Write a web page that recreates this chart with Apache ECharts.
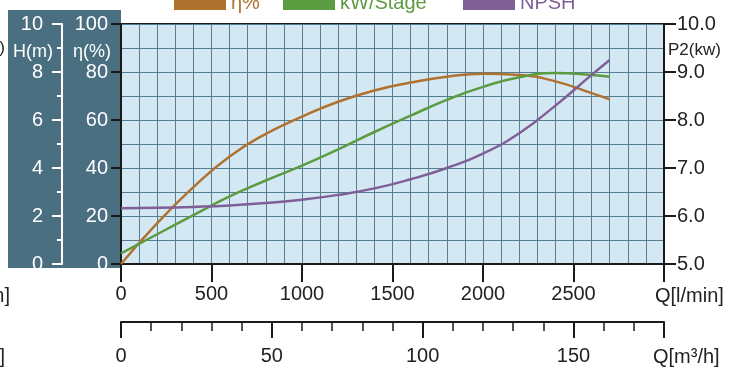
<!DOCTYPE html>
<html>
<head>
<meta charset="utf-8">
<script src="https://cdn.jsdelivr.net/npm/echarts@6/dist/echarts.min.js"></script>
<style>
  html, body { margin: 0; padding: 0; background: #fff; }
  #chart { width: 730px; height: 374px; }
</style>
</head>
<body>
<div id="chart"></div>
<script>
// flow in l/min
const flowQ   = [0, 200, 400, 600, 800, 1000, 1200, 1400, 1600, 1800, 2000, 2200, 2400, 2600, 2700];
const effVal  = [0, 17, 32, 44.8, 54.2, 61.4, 67.6, 72.3, 75.6, 78, 79.3, 78.8, 76.1, 71.2, 68.6];           // η %
const kwVal   = [5.22, 5.62, 6.02, 6.41, 6.74, 7.05, 7.39, 7.75, 8.09, 8.42, 8.69, 8.89, 8.98, 8.94, 8.9];   // P2 kW
const npshVal = [2.32, 2.34, 2.38, 2.44, 2.54, 2.68, 2.88, 3.15, 3.53, 4.0, 4.6, 5.45, 6.6, 7.88, 8.5];     // H m

const FONT = 'Liberation Sans, Arial, sans-serif';
const GRIDC = '#557f90';

const pairs = (xs, ys) => xs.map((x, i) => [x, ys[i]]);

const mychart = echarts.init(document.getElementById('chart'));

const option = {
  animation: false,
  textStyle: { fontFamily: FONT },
  legend: [
    { data: ['η%'], left: 174, top: -7 },
    { data: ['kW/Stage'], left: 283, top: -7 },
    { data: ['NPSH'], left: 463, top: -7 }
  ].map(l => Object.assign(l, {
    padding: 0, icon: 'rect', itemWidth: 52, itemHeight: 14, itemGap: 6,
    textStyle: { color: 'inherit', fontSize: 20, fontFamily: FONT }
  })),
  grid: [
    { left: 121, right: 66, top: 24, height: 240, show: true, backgroundColor: '#d4e8f4', borderColor: '#1a1a1a', borderWidth: 2 },
    { left: 121, right: 66, top: 300, height: 22 },
    { left: 121, right: 66, top: 300, height: 22 }
  ],
  xAxis: [
    {
      gridIndex: 0, type: 'value', min: 0, max: 3000, interval: 500,
      axisLine: { lineStyle: { color: '#1a1a1a', width: 2 } },
      axisTick: { length: 18, lineStyle: { color: '#1a1a1a', width: 2 } },
      axisLabel: { fontSize: 20, color: '#222', margin: 20, formatter: v => v === 3000 ? '' : v },
      splitLine: { lineStyle: { color: GRIDC, width: 1 } },
      minorTick: { show: false, splitNumber: 5 },
      minorSplitLine: { show: true, lineStyle: { color: GRIDC, width: 1 } }
    },
    {
      gridIndex: 1, type: 'value', min: 0, max: 180, interval: 50,
      axisLine: { lineStyle: { color: '#1a1a1a', width: 2 } },
      axisTick: { length: 16, lineStyle: { color: '#1a1a1a', width: 2 } },
      axisLabel: { fontSize: 20, color: '#222', margin: 24, formatter: v => v === 180 ? '' : v },
      splitLine: { show: false }
    },
    {
      gridIndex: 2, type: 'value', min: 0, max: 180, interval: 10,
      axisLine: { show: false },
      axisTick: { length: 9, lineStyle: { color: '#1a1a1a', width: 1.5 } },
      axisLabel: { show: false },
      splitLine: { show: false }
    }
  ],
  yAxis: [
    {
      gridIndex: 0, type: 'value', position: 'left', min: 0, max: 100, interval: 20,
      axisLine: { show: true, lineStyle: { color: '#1a1a1a', width: 2 } },
      axisTick: { show: true, length: 10, lineStyle: { color: '#1a1a1a', width: 2 } },
      axisLabel: { fontSize: 20, color: '#fff', margin: 13 },
      splitLine: { lineStyle: { color: GRIDC, width: 1 } },
      minorSplitLine: { show: true, lineStyle: { color: GRIDC, width: 1 } },
      minorTick: { show: false, splitNumber: 2 }
    },
    {
      gridIndex: 0, type: 'value', position: 'left', offset: 59, min: 0, max: 10, interval: 2,
      axisLine: { show: true, lineStyle: { color: '#fff', width: 2 } },
      axisTick: { show: true, length: 10, lineStyle: { color: '#fff', width: 2 } },
      minorTick: { show: true, splitNumber: 2, length: 5, lineStyle: { color: '#fff', width: 2 } },
      axisLabel: { fontSize: 20, color: '#fff', margin: 19 },
      splitLine: { show: false }
    },
    {
      gridIndex: 0, type: 'value', position: 'right', min: 5, max: 10, interval: 1,
      axisLine: { show: true, lineStyle: { color: '#1a1a1a', width: 2 } },
      axisTick: { show: true, length: 12, lineStyle: { color: '#1a1a1a', width: 2 } },
      axisLabel: { fontSize: 20, color: '#222', margin: 13, formatter: v => v.toFixed(1) },
      splitLine: { show: false }
    },
    { gridIndex: 1, type: 'value', show: false },
    { gridIndex: 2, type: 'value', show: false }
  ],
  graphic: [
    { type: 'rect', z: -10, shape: { x: 8, y: 10, width: 113, height: 258 }, style: { fill: '#4a6f80' } },
    { type: 'text', z: 100, x: 13, y: 52, style: { text: 'H(m)', fill: '#fff', font: '18px ' + FONT, verticalAlign: 'middle' } },
    { type: 'text', z: 100, x: 73, y: 52, style: { text: 'η(%)', fill: '#fff', font: '18px ' + FONT, verticalAlign: 'middle' } },
    { type: 'text', z: 100, x: 668, y: 50, style: { text: 'P2(kw)', fill: '#222', font: '17px ' + FONT, verticalAlign: 'middle' } },
    { type: 'text', z: 100, x: 655, y: 296, style: { text: 'Q[l/min]', fill: '#222', font: '20px ' + FONT, verticalAlign: 'middle' } },
    { type: 'text', z: 100, x: 653, y: 357, style: { text: 'Q[m³/h]', fill: '#222', font: '20px ' + FONT, verticalAlign: 'middle' } },
    { type: 'text', z: 100, x: 5, y: 48, style: { text: 'H(x10)', fill: '#222', font: '17px ' + FONT, align: 'right', verticalAlign: 'middle' } },
    { type: 'text', z: 100, x: 10, y: 296, style: { text: 'Q[US g.p.m]', fill: '#222', font: '20px ' + FONT, align: 'right', verticalAlign: 'middle' } },
    { type: 'text', z: 100, x: 5, y: 357, style: { text: 'Q[ft³/h]', fill: '#222', font: '20px ' + FONT, align: 'right', verticalAlign: 'middle' } }
  ],
  series: [
    {
      name: 'η%', type: 'line', xAxisIndex: 0, yAxisIndex: 0, smooth: 0.5,
      showSymbol: false, color: '#b0722f', lineStyle: { width: 2.5 }, data: pairs(flowQ, effVal)
    },
    {
      name: 'kW/Stage', type: 'line', xAxisIndex: 0, yAxisIndex: 2, smooth: 0.5,
      showSymbol: false, color: '#5c9c40', lineStyle: { width: 2.5 }, data: pairs(flowQ, kwVal)
    },
    {
      name: 'NPSH', type: 'line', xAxisIndex: 0, yAxisIndex: 1, smooth: 0.5,
      showSymbol: false, color: '#7e5f96', lineStyle: { width: 2.5 }, data: pairs(flowQ, npshVal)
    }
  ]
};

mychart.setOption(option);
</script>
</body>
</html>
